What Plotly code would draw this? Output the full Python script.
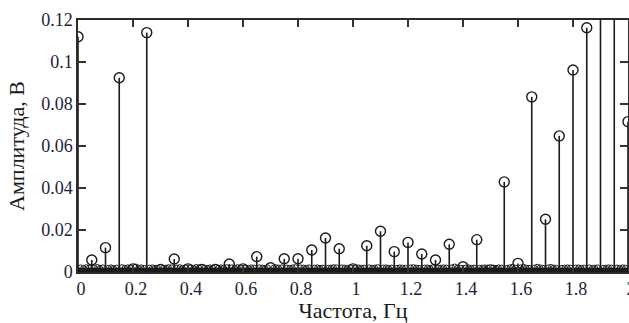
import numpy as np
import plotly.graph_objects as go

# Amplitude spectrum: main harmonics every 0.05 Hz
freq_step = 0.05
amplitude = [
    0.1120, 0.0057, 0.0116, 0.0925, 0.0015, 0.1140, 0.0012, 0.0062, 0.0015, 0.0012,
    0.0012, 0.0038, 0.0015, 0.0073, 0.0020, 0.0063, 0.0063, 0.0105, 0.0162, 0.0111,
    0.0015, 0.0125, 0.0194, 0.0097, 0.0141, 0.0086, 0.0057, 0.0132, 0.0025, 0.0154,
    0.0010, 0.0429, 0.0041, 0.0834, 0.0251, 0.0648, 0.0962, 0.1163, 0.1450, 0.1380,
    0.0716,
]
freq = [round(i * freq_step, 2) for i in range(len(amplitude))]

# Fine-resolution residual components between the harmonics (0.01 Hz grid)
fine_amplitude = [
    0.0022, 0.0020, 0.0023, 0.0021,  0.0021, 0.0024, 0.0020, 0.0022,
    0.0020, 0.0022, 0.0019, 0.0021,  0.0023, 0.0020, 0.0022, 0.0021,
    0.0026, 0.0021, 0.0022, 0.0020,  0.0021, 0.0022, 0.0020, 0.0019,
    0.0020, 0.0021, 0.0023, 0.0022,  0.0021, 0.0023, 0.0020, 0.0022,
    0.0022, 0.0020, 0.0024, 0.0022,  0.0021, 0.0020, 0.0022, 0.0021,
    0.0020, 0.0022, 0.0021, 0.0023,  0.0022, 0.0021, 0.0023, 0.0020,
    0.0021, 0.0020, 0.0022, 0.0021,  0.0022, 0.0021, 0.0020, 0.0022,
    0.0020, 0.0023, 0.0021, 0.0022,  0.0021, 0.0020, 0.0022, 0.0023,
    0.0022, 0.0021, 0.0020, 0.0022,  0.0021, 0.0022, 0.0020, 0.0021,
    0.0020, 0.0021, 0.0023, 0.0022,  0.0022, 0.0021, 0.0020, 0.0022,
    0.0021, 0.0022, 0.0020, 0.0021,  0.0022, 0.0020, 0.0021, 0.0023,
    0.0021, 0.0022, 0.0020, 0.0021,  0.0020, 0.0022, 0.0021, 0.0020,
    0.0022, 0.0023, 0.0021, 0.0020,  0.0021, 0.0022, 0.0020, 0.0022,
    0.0020, 0.0021, 0.0022, 0.0021,  0.0022, 0.0026, 0.0021, 0.0020,
    0.0021, 0.0022, 0.0020, 0.0021,  0.0020, 0.0021, 0.0022, 0.0021,
    0.0021, 0.0020, 0.0022, 0.0021,  0.0020, 0.0022, 0.0025, 0.0021,
    0.0022, 0.0025, 0.0021, 0.0020,  0.0021, 0.0025, 0.0022, 0.0020,
    0.0022, 0.0024, 0.0021, 0.0020,  0.0020, 0.0021, 0.0022, 0.0021,
    0.0021, 0.0022, 0.0020, 0.0021,  0.0022, 0.0020, 0.0021, 0.0022,
    0.0020, 0.0021, 0.0022, 0.0021,  0.0021, 0.0020, 0.0022, 0.0021,
]
fine_freq = [round(k * freq_step + j * 0.01, 2)
             for k in range(40) for j in range(1, 5)]

x_ticks = [0, 0.2, 0.4, 0.6, 0.8, 1, 1.2, 1.4, 1.6, 1.8, 2]
y_ticks = [0, 0.02, 0.04, 0.06, 0.08, 0.1, 0.12]

x_title = "Частота, Гц"
y_title = "Амплитуда, В"

# Vertical stems from zero up to each amplitude
stem_x, stem_y = [], []
for f, a in zip(freq, amplitude):
    stem_x += [f, f, None]
    stem_y += [0, a, None]

ink = "#1a1a1a"
fig = go.Figure()
fig.add_trace(go.Scatter(
    x=stem_x, y=stem_y, mode="lines",
    line=dict(color=ink, width=1.6),
    hoverinfo="skip", showlegend=False, cliponaxis=True,
))
fig.add_trace(go.Scatter(
    x=fine_freq, y=fine_amplitude, mode="markers",
    marker=dict(symbol="circle-open", size=5, color=ink, line=dict(width=1)),
    showlegend=False, cliponaxis=True,
))
fig.add_trace(go.Scatter(
    x=freq, y=amplitude, mode="markers",
    marker=dict(symbol="circle-open", size=10, color=ink, line=dict(width=1.4)),
    showlegend=False, cliponaxis=True,
))

# dense band of near-zero components along the baseline
fig.add_shape(type="rect", xref="x", yref="y", x0=0, x1=2, y0=0, y1=0.0021,
              fillcolor=ink, line=dict(width=0), layer="below")

tick_font = dict(family="Liberation Serif", size=18, color="#1e2238")
title_font = dict(family="Liberation Serif", size=22, color=ink)

fig.update_layout(
    width=629, height=323,
    margin=dict(l=78, r=1, t=20, b=51),
    paper_bgcolor="white", plot_bgcolor="white",
    xaxis=dict(
        range=[0, 2], tickvals=x_ticks, ticks="inside", ticklen=7,
        tickwidth=1.5, tickcolor="#333333", automargin=False,
        showline=True, linecolor="#2b2b2b", linewidth=1.5, mirror="ticks",
        showgrid=False, zeroline=False, tickfont=tick_font,
        ticklabeloverflow="allow", ticklabelshift=3,
        title=dict(text=x_title, font=title_font, standoff=2),
    ),
    yaxis=dict(
        range=[0, 0.12], tickvals=y_ticks, ticks="inside", ticklen=8,
        tickwidth=1.5, tickcolor="#333333", automargin=False,
        showline=True, linecolor="#2b2b2b", linewidth=1.5, mirror="ticks",
        showgrid=False, zeroline=False, tickfont=tick_font,
        title=dict(text=y_title, font=title_font, standoff=10),
    ),
)

fig.write_html("out.html")
